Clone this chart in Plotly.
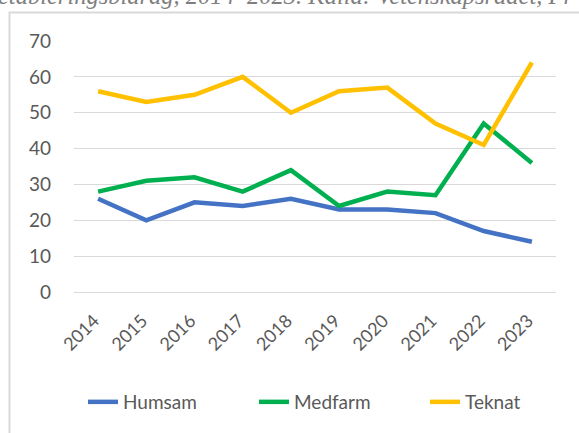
import plotly.graph_objects as go

years = ["2014", "2015", "2016", "2017", "2018", "2019", "2020", "2021", "2022", "2023"]
humsam = [26, 20, 25, 24, 26, 23, 23, 22, 17, 14]
medfarm = [28, 31, 32, 28, 34, 24, 28, 27, 47, 36]
teknat = [56, 53, 55, 60, 50, 56, 57, 47, 41, 64]
y_ticks = [0, 10, 20, 30, 40, 50, 60, 70]
caption = "etableringsbidrag, 2014–2023. Källa: Vetenskapsrådet, Fr"

FONT = "Lato"
TXT = "#595959"

fig = go.Figure()
for name, vals, col in [("Humsam", humsam, "#4472C4"),
                        ("Medfarm", medfarm, "#00B050"),
                        ("Teknat", teknat, "#FFC000")]:
    fig.add_trace(go.Scatter(x=years, y=vals, mode="lines", name=name,
                             line=dict(color=col, width=4.5)))

W, H = 579, 433
L, R, T, B = 74, 23, 41, 141
pw = W - L - R
ph = H - T - B


def py(p):
    """pixel-from-top -> paper y"""
    return (T + ph - p) / ph


def px(p):
    """pixel-from-left -> paper x"""
    return (p - L) / pw


fig.update_layout(
    width=W, height=H,
    margin=dict(l=L, r=R, t=T, b=B, pad=0, autoexpand=False),
    paper_bgcolor="white", plot_bgcolor="white",
    font=dict(family=FONT, size=19, color=TXT),
    showlegend=True,
    legend=dict(orientation="h", x=px(73), xanchor="left",
                y=py(402), yanchor="middle",
                font=dict(family=FONT, size=19, color=TXT),
                entrywidth=126, entrywidthmode="pixels",
                borderwidth=10, bordercolor="rgba(0,0,0,0)",
                bgcolor="rgba(0,0,0,0)"),
    xaxis=dict(type="category", tickangle=-45, showgrid=False,
               showline=True, linecolor="#d9d9d9", linewidth=1.3,
               ticks="", ticklabelstandoff=10, ticklabelshift=-4,
               automargin=False,
               tickfont=dict(family=FONT, size=18, color=TXT),
               range=[-0.5, 9.5]),
    yaxis=dict(range=[0, 70], tickvals=y_ticks, showgrid=True,
               gridcolor="#d9d9d9", gridwidth=1.3, zeroline=False,
               showline=False, ticks="", ticklabelstandoff=22,
               automargin=False,
               tickfont=dict(family=FONT, size=19, color=TXT)),
)

# outer chart border (top and left visible)
fig.add_shape(type="rect", xref="paper", yref="paper",
              x0=px(9.5), x1=px(700),
              y0=py(600), y1=py(12.5),
              line=dict(color="#d9d9d9", width=2), layer="below")

# cut-off caption at the top
fig.add_annotation(text="<i>" + caption + "</i>", xref="paper", yref="paper",
                   x=px(-4), xanchor="left",
                   y=py(11), yanchor="bottom",
                   showarrow=False,
                   font=dict(family="Liberation Serif", size=24.5, color="#7f7f7f"))

fig.write_html("out.html", config={"displayModeBar": False},
               post_script="document.body.style.margin='0';document.body.style.overflow='hidden';")
